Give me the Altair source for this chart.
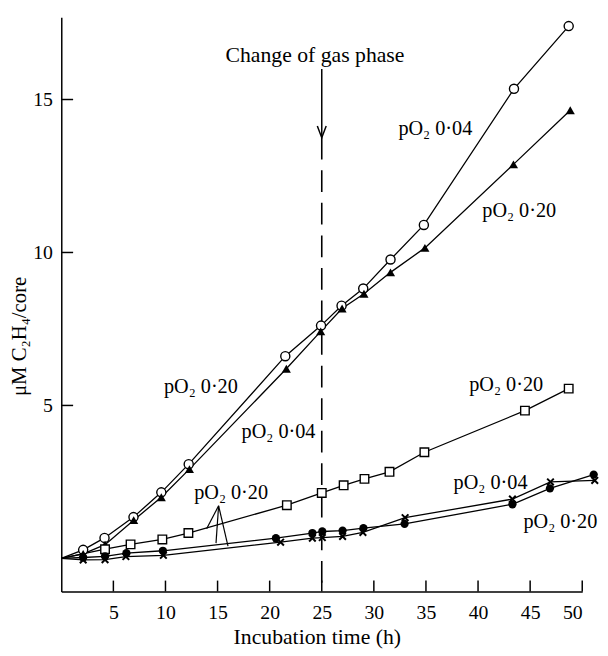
import altair as alt
import pandas as pd

# ---- data ----
open_x = [0, 2.1, 4.15, 6.93, 9.6, 12.23, 21.5, 24.93, 26.9, 28.98, 31.6, 34.8, 43.45, 48.7]
open_y = [0, 0.28, 0.67, 1.35, 2.16, 3.08, 6.61, 7.61, 8.26, 8.82, 9.77, 10.9, 15.35, 17.4]

tri_x = [0, 2.1, 4.2, 6.95, 9.6, 12.3, 21.6, 24.9, 26.95, 29.05, 31.6, 34.9, 43.4, 48.85]
tri_y = [0, 0.15, 0.45, 1.25, 2.0, 2.92, 6.2, 7.42, 8.17, 8.65, 9.35, 10.15, 12.88, 14.65]

sq_x = [0, 4.2, 6.65, 9.7, 12.2, 21.65, 25.0, 27.1, 29.1, 31.5, 34.85, 44.5, 48.7]
sq_y = [0, 0.3, 0.46, 0.62, 0.83, 1.74, 2.14, 2.39, 2.6, 2.83, 3.47, 4.83, 5.55]

fill_x = [0, 2.1, 4.2, 6.25, 9.75, 20.6, 24.1, 25.05, 27.0, 29.0, 32.95, 43.3, 46.9, 51.1]
fill_y = [0, 0.03, 0.07, 0.17, 0.25, 0.66, 0.83, 0.88, 0.91, 0.99, 1.13, 1.77, 2.29, 2.74]

cross_x = [0, 2.1, 4.2, 6.2, 9.8, 21.05, 24.1, 25.05, 27.0, 28.95, 33.0, 43.3, 46.95, 51.2]
cross_y = [0, -0.05, -0.04, 0.06, 0.1, 0.53, 0.66, 0.68, 0.72, 0.85, 1.33, 1.94, 2.5, 2.55]

x_ticks = [5, 10, 15, 20, 25, 30, 35, 40, 45, 50]
y_ticks = [5, 10, 15]

label_text = ["pO₂ 0·04", "pO₂ 0·20", "pO₂ 0·20", "pO₂ 0·04", "pO₂ 0·20",
              "pO₂ 0·20", "pO₂ 0·04", "pO₂ 0·20"]
label_x = [35.9, 43.95, 13.4, 20.85, 42.7, 16.3, 41.2, 47.9]
label_y = [14.03, 11.34, 5.59, 4.13, 5.66, 2.15, 2.47, 1.18]

leader_x = [15.1, 15.1, 15.1]
leader_y = [1.72, 1.72, 1.72]
leader_x2 = [13.95, 14.85, 16.0]
leader_y2 = [0.97, 0.5, 0.4]

change_x = 25
arrow_top, arrow_tip = 16.0, 13.75

X_DOM = [0, 50]
Y_DOM = [-1.08, 17.69]
W, H = 528, 582
FONT = "Liberation Serif"

# ---- tables ----
rows = []
for name, xs, ys in [("open", open_x, open_y), ("tri", tri_x, tri_y), ("sq", sq_x, sq_y),
                     ("fill", fill_x, fill_y), ("cross", cross_x, cross_y)]:
    for a, b in zip(xs, ys):
        rows.append({"series": name, "t": a, "v": b})
df = pd.DataFrame(rows)
pts = df[df["t"] > 0]

xs = alt.Scale(domain=X_DOM, nice=False, zero=False)
ys = alt.Scale(domain=Y_DOM, nice=False, zero=False)

X = alt.X("t:Q", scale=xs, axis=alt.Axis(values=x_ticks, tickSize=0, grid=False,
          domainColor="black", domainWidth=1.5, labelFont=FONT, labelFontSize=20,
          labelColor="black", labelPadding=11, title="Incubation time (h)",
          titleFont=FONT, titleFontSize=22, titleFontWeight="normal", titleColor="black",
          titleX=259, titleY=46, titleBaseline="middle"))
Y = alt.Y("v:Q", scale=ys, axis=alt.Axis(values=y_ticks, tickSize=0, grid=False,
          domainColor="black", domainWidth=1.5, labelFont=FONT, labelFontSize=20,
          labelColor="black", labelPadding=9, title="μM C₂H₄/core",
          titleFont=FONT, titleFontSize=21, titleFontWeight="normal", titleColor="black",
          titleAngle=270, titleX=-42, titleY=323, titleAlign="center", titleBaseline="middle"))

base = alt.Chart(df)
lines = base.mark_line(color="black", strokeWidth=1.3).encode(x=X, y=Y, detail="series:N")

pbase = alt.Chart(pts)
def sel(name):
    return pbase.transform_filter(alt.datum.series == name)

p_open = sel("open").mark_point(shape="circle", filled=True, fill="white", stroke="black",
                                strokeWidth=1.4, size=85, opacity=1).encode(x="t:Q", y="v:Q")
p_tri = sel("tri").mark_point(shape="triangle-up", filled=True, color="black",
                              size=85, opacity=1).encode(x="t:Q", y="v:Q")
p_sq = sel("sq").mark_point(shape="square", filled=True, fill="white", stroke="black",
                            strokeWidth=1.4, size=75, opacity=1).encode(x="t:Q", y="v:Q")
p_fill = sel("fill").mark_point(shape="circle", filled=True, color="black",
                                size=70, opacity=1).encode(x="t:Q", y="v:Q")
p_cross = sel("cross").mark_point(shape="M-1,-1L1,1M-1,1L1,-1", filled=False, color="black",
                                  strokeWidth=2, size=45, opacity=1).encode(x="t:Q", y="v:Q")

# axis ticks pointing inward
xt = alt.Chart(pd.DataFrame({"t": x_ticks})).mark_rule(color="black", strokeWidth=1.5).encode(
    x="t:Q", y=alt.value(H), y2=alt.value(H - 11))
yt = alt.Chart(pd.DataFrame({"v": y_ticks})).mark_rule(color="black", strokeWidth=1.5).encode(
    y="v:Q", x=alt.value(0), x2=alt.value(12))

# change of gas phase marker
ch = pd.DataFrame({"t": [change_x], "a": [arrow_top], "b": [arrow_tip], "lo": [Y_DOM[0]],
                   "txt": ["Change of gas phase"], "ty": [16.45], "tx": [24.35]})
solid = alt.Chart(ch).mark_rule(color="black", strokeWidth=1.5).encode(x="t:Q", y="a:Q", y2="b:Q")
dashed = alt.Chart(ch).mark_rule(color="black", strokeWidth=1.6, strokeDash=[22, 11]).encode(
    x="t:Q", y="b:Q", y2="lo:Q")
head = alt.Chart(ch).mark_point(shape="M-0.38,-1L0,0L0.38,-1", filled=False, color="black",
                                strokeWidth=1.5, size=560, opacity=1).encode(x="t:Q", y="b:Q")
ctext = alt.Chart(ch).mark_text(font=FONT, fontSize=22, color="black").encode(
    x="tx:Q", y="ty:Q", text="txt:N")

labs = alt.Chart(pd.DataFrame({"x": label_x, "y": label_y, "s": label_text})).mark_text(
    font=FONT, fontSize=20.5, color="black").encode(x="x:Q", y="y:Q", text="s:N")

lead = alt.Chart(pd.DataFrame({"x": leader_x, "y": leader_y, "x2": leader_x2, "y2": leader_y2})
                 ).mark_rule(color="black", strokeWidth=1.2).encode(x="x:Q", y="y:Q", x2="x2:Q", y2="y2:Q")

chart = alt.layer(lines, dashed, solid, head, lead, p_open, p_tri, p_sq, p_fill, p_cross,
                  xt, yt, labs, ctext).properties(
    width=W, height=H,
    autosize=alt.AutoSizeParams(type="none"),
    padding={"left": 54, "top": 5, "right": 18, "bottom": 55},
    background="white",
).configure_view(stroke=None)

chart.save("out.html", embed_options={"renderer": "svg", "actions": False})
